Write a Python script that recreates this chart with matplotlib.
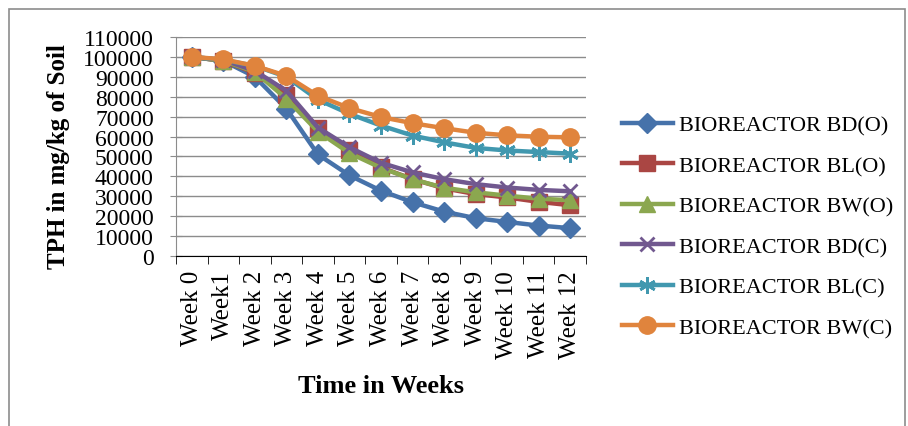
from matplotlib import pyplot as plt
from matplotlib.patches import Rectangle
import numpy as np

plt.rcParams['font.family'] = ['Liberation Serif', 'DejaVu Serif']

weeks = ['Week 0', 'Week1', 'Week 2', 'Week 3', 'Week 4', 'Week 5', 'Week 6',
         'Week 7', 'Week 8', 'Week 9', 'Week 10', 'Week 11', 'Week 12']

bd_o = [100000, 98000, 90000, 74000, 51000, 40500, 32800, 27000, 22300, 19000, 17100, 15300, 14000]
bl_o = [100000, 98000, 92000, 81000, 64500, 53400, 44500, 38600, 34000, 31100, 29400, 27200, 25500]
bw_o = [100000, 98000, 92500, 79000, 62500, 51700, 44300, 38500, 34300, 32000, 30300, 28800, 28000]
bd_c = [100000, 98500, 93000, 83000, 64500, 54600, 46800, 42000, 38600, 36100, 34400, 33200, 32500]
bl_c = [100000, 98500, 95500, 90000, 78500, 71400, 65500, 60500, 57100, 54300, 53000, 52200, 51400]
bw_c = [100000, 98800, 95500, 90500, 80500, 74300, 69800, 66700, 64200, 61900, 60600, 59900, 59600]

series_names = ['BIOREACTOR BD(O)', 'BIOREACTOR BL(O)', 'BIOREACTOR BW(O)',
                'BIOREACTOR BD(C)', 'BIOREACTOR BL(C)', 'BIOREACTOR BW(C)']
series_values = [bd_o, bl_o, bw_o, bd_c, bl_c, bw_c]

colors = ['#4672AA', '#AA4643', '#8BA74F', '#71588F', '#4198AF', '#E0843D']
markers = ['D', 's', '^', 'x', (6, 2, 0), 'o']
msizes = [10, 11, 11, 10, 12, 12.5]

fig = plt.figure(figsize=(9.08, 4.27), dpi=100)
fig.patches.append(Rectangle((9/908, -0.01), 896/908, 1 - 10/427 + 0.01,
                             transform=fig.transFigure, fill=False,
                             edgecolor='#8c8c8c', linewidth=1.2))
ax = fig.add_axes([176/908, 1 - 257/427, 410/908, 219/427])

x = np.arange(len(weeks))
for vals, name, c, m, ms in zip(series_values, series_names, colors, markers, msizes):
    mew = 2 if m in ('x', (6, 2, 0)) else 1
    ax.plot(x, vals, color=c, linewidth=3.2, marker=m, markersize=ms,
            markerfacecolor=c, markeredgecolor=c, markeredgewidth=mew, label=name)

ax.set_xlim(-0.5, len(weeks) - 0.5)
ax.set_ylim(0, 110000)
ax.set_yticks(np.arange(0, 110001, 10000))
ax.yaxis.grid(True, color='#8c8c8c', linewidth=1)
ax.set_axisbelow(True)
ax.set_xticks(x)
ax.set_xticklabels(weeks, rotation=90, fontsize=18)
ax.set_xticks(np.arange(-0.5, len(weeks), 1), minor=True)
ax.tick_params(axis='x', which='major', length=0, pad=10)
ax.tick_params(axis='x', which='minor', length=6, color='black', direction='out')
ax.tick_params(axis='y', labelsize=17, length=8, color='#8c8c8c', direction='inout', pad=12)

for side in ['top', 'right']:
    ax.spines[side].set_visible(False)
ax.spines['left'].set_color('#8c8c8c')
ax.spines['bottom'].set_color('black')

fig.text(58/908, 1 - 157/427, 'TPH in mg/kg of Soil', fontsize=18, fontweight='bold',
         rotation=90, ha='center', va='center')
fig.text(381/908, 1 - 387/427, 'Time in Weeks', fontsize=19, fontweight='bold',
         ha='center', va='center')

fig.legend(loc='upper left', bbox_to_anchor=(613/908, 1 - 107/427), frameon=False,
           fontsize=16, handlelength=2.3, handletextpad=0.25, labelspacing=0.9,
           borderaxespad=0)

plt.savefig('out.png', dpi=100)
